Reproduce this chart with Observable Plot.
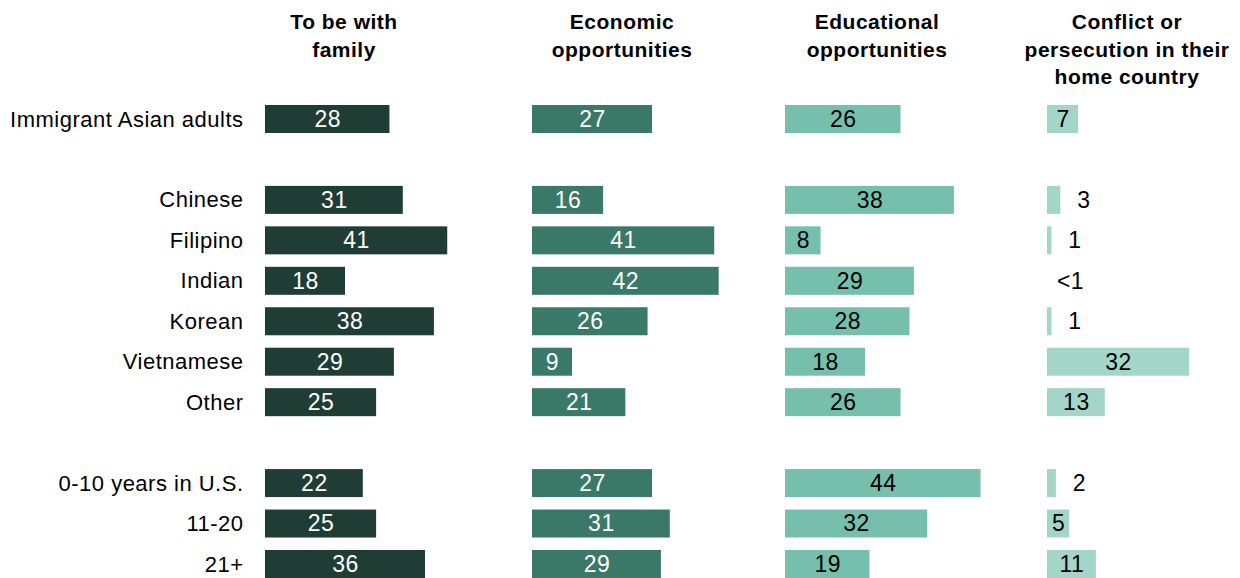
<!DOCTYPE html>
<html>
<head>
<meta charset="utf-8">
<script src="https://cdn.jsdelivr.net/npm/d3@7"></script>
<script src="https://cdn.jsdelivr.net/npm/@observablehq/plot@0.6"></script>
<style>
  html, body { margin: 0; padding: 0; background: #fff; overflow: hidden; }
  body { width: 1240px; height: 578px; font-family: "Liberation Sans", Arial, sans-serif; }
  #header { position: relative; height: 95px; width: 1240px; }
  .head { position: absolute; top: 8px; width: 260px; text-align: center; font-weight: bold; font-size: 21px; line-height: 27.5px; letter-spacing: 0.5px; color: #000; }
  #charts { position: relative; height: 483px; width: 1240px; }
  .col { position: absolute; top: 0; }
  .col svg { display: block; overflow: visible; }
</style>
</head>
<body>
<div id="header"></div>
<div id="charts"></div>
<script>
// ---- data ----
const groups = ["Immigrant Asian adults", "Chinese", "Filipino", "Indian", "Korean", "Vietnamese", "Other", "0-10 years in U.S.", "11-20", "21+"];
const rowOrder = ["Immigrant Asian adults", "spacer1", "Chinese", "Filipino", "Indian", "Korean", "Vietnamese", "Other", "spacer2", "0-10 years in U.S.", "11-20", "21+"];
const reasons = ["To be with family", "Economic opportunities", "Educational opportunities", "Conflict or persecution in their home country"];
const reasonLines = [["To be with", "family"], ["Economic", "opportunities"], ["Educational", "opportunities"], ["Conflict or", "persecution in their", "home country"]];
const family = [28, 31, 41, 18, 38, 29, 25, 22, 25, 36];
const economic = [27, 16, 41, 42, 26, 9, 21, 27, 31, 29];
const educational = [26, 38, 8, 29, 28, 18, 26, 44, 32, 19];
const conflict = [7, 3, 1, 0, 1, 32, 13, 2, 5, 11];
const conflictLabels = ["7", "3", "1", "<1", "1", "32", "13", "2", "5", "11"];
const colors = ["#1f3c35", "#3a7868", "#76bfad", "#a4d5c9"];
const textColors = ["#ffffff", "#ffffff", "#000000", "#000000"];

// ---- layout ----
const pxPerUnit = 4.445;
const colStarts = [265, 532, 785, 1047];
const headCenters = [344, 622, 877, 1127];
const domains = [[0, 45], [0, 45], [0, 45], [0, 43]];
const font = '"Liberation Sans", Arial, sans-serif';

const header = document.getElementById("header");
reasons.forEach((r, i) => {
  const d = document.createElement("div");
  d.className = "head";
  d.style.left = (headCenters[i] - 130) + "px";
  d.innerHTML = reasonLines[i].join("<br>");
  d.title = r;
  header.appendChild(d);
});

const series = [family, economic, educational, conflict];
const labelSets = [family.map(String), economic.map(String), educational.map(String), conflictLabels];
const charts = document.getElementById("charts");

series.forEach((vals, i) => {
  const data = groups.map((g, j) => ({group: g, value: vals[j], label: labelSets[i][j]}));
  const ml = i === 0 ? colStarts[0] : 0;
  const w = ml + (domains[i][1] - domains[i][0]) * pxPerUnit;
  const inside = d => d.value > 3;
  const chart = Plot.plot({
    width: w,
    height: 483,
    marginLeft: ml,
    marginRight: 0,
    marginTop: 0,
    marginBottom: 0,
    style: {fontFamily: font, fontSize: "22px", letterSpacing: "0.5px", color: "#000", background: "transparent", overflow: "visible"},
    x: {domain: domains[i], axis: null},
    y: {
      domain: rowOrder,
      range: [0, 493],
      round: false,
      paddingInner: 0.308,
      paddingOuter: 0.247,
      axis: i === 0 ? "left" : null,
      tickSize: 0,
      tickPadding: 22,
      tickFormat: d => d.startsWith("spacer") ? "" : d,
      label: null
    },
    marks: [
      Plot.barX(data, {x: "value", y: "group", fill: colors[i]}),
      Plot.text(data.filter(inside), {
        x: d => d.value / 2, y: "group", text: "label",
        fill: textColors[i], fontSize: 23, textAnchor: "middle"
      }),
      Plot.text(data.filter(d => !inside(d)), {
        x: "value", y: "group", text: "label",
        fill: "#000", fontSize: 23, textAnchor: "middle", dx: 23
      })
    ]
  });
  const wrap = document.createElement("div");
  wrap.className = "col";
  wrap.style.left = (colStarts[i] - ml) + "px";
  wrap.appendChild(chart);
  charts.appendChild(wrap);
});
</script>
</body>
</html>
